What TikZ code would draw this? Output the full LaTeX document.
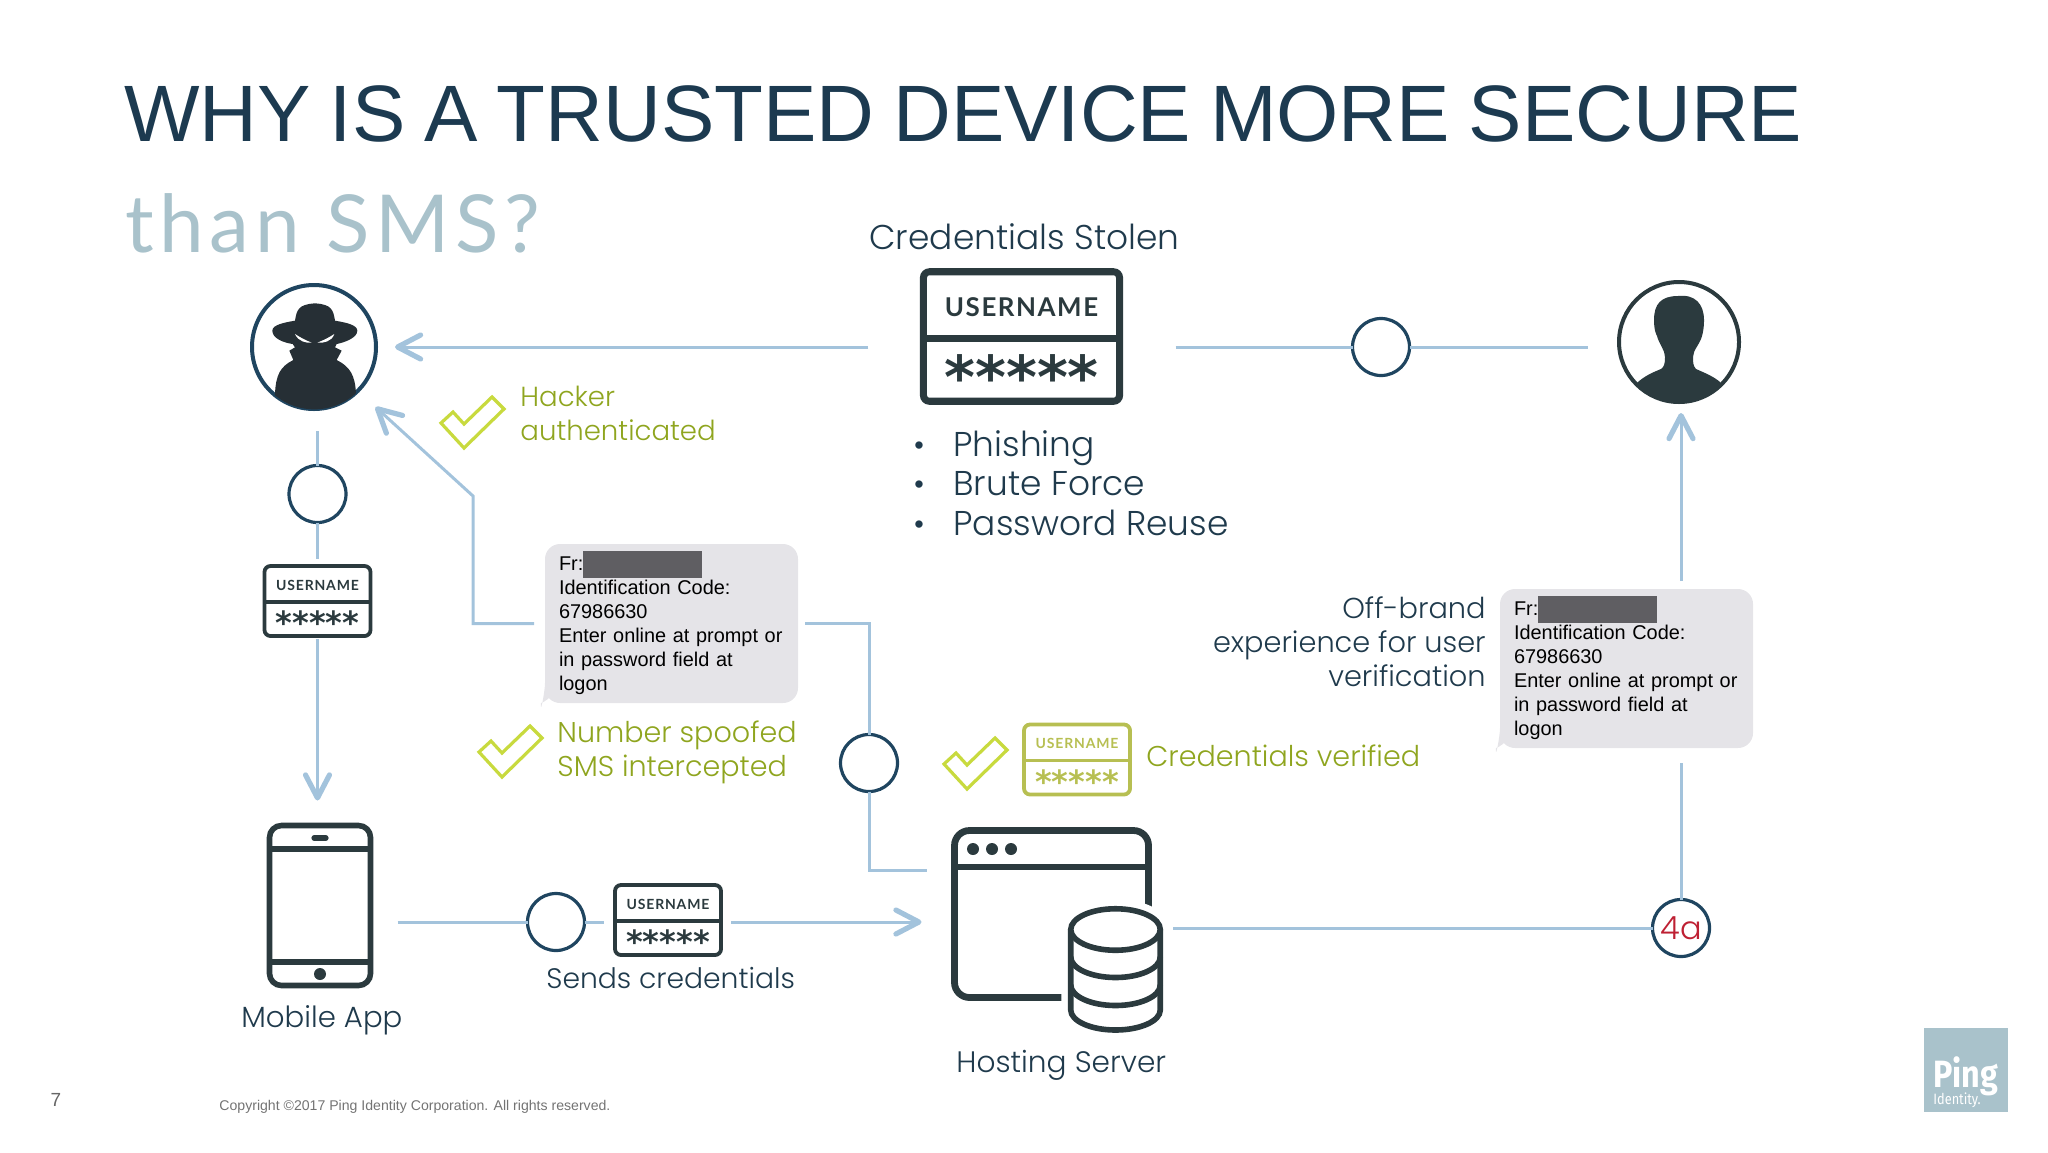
\documentclass[tikz,border=0pt]{standalone}
\usepackage{fontspec}
\usetikzlibrary{arrows.meta,calc}
\setmainfont{Liberation Sans}
\newfontfamily\titlefont{Liberation Sans}[WordSpace=0.85]
\newfontfamily\subfont{Lato}[LetterSpace=7]
\newfontfamily\slidefont{Poppins Light}
\newfontfamily\capsfont{Lato Bold}[LetterSpace=6]
\newfontfamily\starfont{DejaVu Sans Bold}
\newfontfamily\pingfont{Fira Sans}[FakeStretch=0.85]
\definecolor{titleink}{HTML}{1C3A50}
\definecolor{subink}{HTML}{A9C2CB}
\definecolor{labelink}{HTML}{1F3A4C}
\definecolor{iconink}{HTML}{2B3A3E}
\definecolor{spyink}{HTML}{262F35}
\definecolor{ringink}{HTML}{1F4560}
\definecolor{flowblue}{HTML}{A3C3DC}
\definecolor{okgreen}{HTML}{C8DA3E}
\definecolor{oktext}{HTML}{8FA51F}
\definecolor{okbox}{HTML}{B7BF52}
\definecolor{smsgrey}{HTML}{E5E4E8}
\definecolor{smsdark}{HTML}{5F5E62}
\definecolor{redfour}{HTML}{BE2033}
\tikzset{
  flow/.style={draw=flowblue,line width=1.5pt},
  flowtip/.tip={Straight Barb[length=11.5pt,width=12pt,line width=2.6pt,round]},
  stepring/.style={circle,draw=ringink,line width=1.6pt,minimum size=28.5pt,inner sep=0pt,outer sep=0pt,fill=white},
  bigring/.style={circle,line width=2pt,minimum size=#1,inner sep=0pt,outer sep=0pt},
  talk/.style={font=\slidefont\fontsize{17.2}{17}\selectfont,text=labelink,inner sep=0pt,anchor=base west},
  midtalk/.style={talk,font=\slidefont\fontsize{14.6}{16}\selectfont},
  okay/.style={talk,font=\slidefont\fontsize{14.3}{17}\selectfont,text=oktext},
  okline/.style={draw=okgreen,line width=1.6pt,line join=miter},
  iconline/.style={draw=iconink,line width=2.8pt},
  dotmark/.style={font=\fontsize{13.5}{14}\selectfont,text=labelink,inner sep=0pt,anchor=base},
  smsbox/.style={fill=smsgrey,rounded corners=7.5pt,minimum width=126.5pt,minimum height=79.5pt,inner sep=0pt,outer sep=0pt},
  smstext/.style={text width=112.5pt,inner sep=0pt,align=left,font=\fontsize{9.95}{12}\selectfont,text=black}
}
\newcommand{\credbox}[4]{%
  \begin{scope}[shift={#2},scale=#3,transform shape]
    \node[draw=#4,line width=#3*1.9pt,rounded corners=3pt,minimum width=53pt,minimum height=35pt,inner sep=0pt,outer sep=0pt] (#1) at (0,0) {};
    \draw[#4,line width=#3*1.9pt] (-53,1) -- (53,1);
    \node[font=\capsfont\fontsize{7}{8}\selectfont,text=#4,inner sep=0pt] (#1user) at (0,-16) {USERNAME};
    \node[font=\starfont\fontsize{16}{16}\selectfont,text=#4,inner sep=0pt,anchor=base] (#1pass) at (0,33.5) {*****};
  \end{scope}}
\newcommand{\smsbubble}[2]{%
  \fill[smsgrey] ($#2+(-126.5,59.5)$) .. controls +(0,8) and +(-1,14) .. +(-4,20) .. controls +(6,-1) and +(9,-2) .. +(14,0) -- cycle;
  \node[smsbox] (#1) at #2 {};
  \node[smstext] (#1text) at ($(#1)+(0,2.5)$) {Fr:\\Identification Code:\\67986630\\Enter online at prompt or\\in password field at\\logon};
  \node[fill=smsdark,minimum width=59.5pt,minimum height=13.5pt,inner sep=0pt,outer sep=0pt,anchor=north west] (#1redact) at ($(#1.north west)+(38,7)$) {};}
\newcommand{\okmark}[1]{\draw[okline,shift={#1}] (0,0) -- (-23,-25) -- (-11,-36) -- (0,-24) -- (28,-51) -- (40,-39) -- cycle;}
\begin{document}
\begin{tikzpicture}[x=0.5pt,y=-0.5pt]
  \useasboundingbox (0,0) rectangle (2048,1152);
  % headings
  \node[font=\titlefont\fontsize{40}{40}\selectfont,text=titleink,inner sep=0pt,anchor=base west] (title) at (124,141) {WHY IS A TRUSTED DEVICE MORE SECURE};
  \node[font=\subfont\fontsize{40}{40}\selectfont,text=subink,inner sep=0pt,anchor=base west] (subtitle) at (125,252) {than SMS?};
  % people
  \node[bigring=62pt,draw=ringink] (hacker) at (314,347) {};
  \node[bigring=60pt,draw=iconink] (victim) at (1679,342) {};
  \begin{scope}[shift={(200,260)},scale=1/3]
    \clip (343,262) circle[radius=186];
    \fill[spyink] (285,182) .. controls (290,150) and (295,133) .. (345,130) .. controls (395,133) and (400,150) .. (405,182)
      .. controls (440,188) and (472,195) .. (472,212) .. controls (472,235) and (430,248) .. (410,252) -- (405,262) -- (425,272) -- (410,300)
      .. controls (450,320) and (465,345) .. (468,400) -- (468,460) -- (220,460) -- (225,400) .. controls (228,345) and (240,320) .. (280,300)
      -- (268,272) -- (285,262) -- (278,252) .. controls (250,248) and (217,235) .. (217,212) .. controls (217,195) and (250,188) .. (285,182) -- cycle;
    \fill[white] (285,222) .. controls (295,245) and (320,250) .. (335,248) .. controls (315,240) and (300,232) .. (285,222) -- cycle;
    \fill[white] (403,222) .. controls (395,245) and (370,250) .. (352,248) .. controls (372,240) and (388,232) .. (403,222) -- cycle;
  \end{scope}
  \begin{scope}[shift={(victim)}]
    \clip (0,0) circle[radius=59];
    \fill[iconink] (-1,-46) .. controls (-18,-46) and (-25,-38) .. (-25,-22) .. controls (-25,-12) and (-23,-8) .. (-22,-6)
      .. controls (-20,2) and (-14,8) .. (-14,15) .. controls (-14,22) and (-15,25) .. (-18,27) .. controls (-28,31) and (-36,35) .. (-42,41) -- (-42,70) -- (42,70) -- (42,41)
      .. controls (36,35) and (26,31) .. (17,27) .. controls (14,24) and (14,20) .. (14,15) .. controls (14,8) and (21,2) .. (23,-6)
      .. controls (24,-10) and (25,-14) .. (25,-22) .. controls (25,-38) and (16,-48) .. (-1,-46) -- cycle;
  \end{scope}
  % stolen credentials
  \node[talk] (stolenlabel) at (869,249) {Credentials Stolen};
  \credbox{credstolen}{(1021.5,336.5)}{1.85}{iconink}
  \node[dotmark] (dotone) at (919,454) {•};
  \node[dotmark] (dottwo) at (919,493) {•};
  \node[dotmark] (dotthree) at (919,533) {•};
  \node[talk] (phishing) at (953,456) {Phishing};
  \node[talk] (brute) at (953,495) {Brute Force};
  \node[talk] (reuse) at (953,535) {Password Reuse};
  % left column
  \node[stepring] (stepuser) at (317.5,494) {};
  \credbox{creduser}{(317.5,601)}{1}{iconink}
  \node[iconline,rounded corners=6pt,minimum width=50.5pt,minimum height=80pt,inner sep=0pt,outer sep=0pt] (phone) at (320,905.5) {};
  \draw[iconline] (phone.west |- 0,849) -- (phone.east |- 0,849);
  \draw[iconline] (phone.west |- 0,962) -- (phone.east |- 0,962);
  \draw[iconink,line width=2.6pt,line cap=round] (314,838) -- (326,838);
  \fill[iconink] (320,974) circle[radius=6];
  \node[midtalk] (applabel) at (241,1027) {Mobile App};
  \node[stepring] (stepsend) at (556,922) {};
  \credbox{credsend}{(668,920)}{1}{iconink}
  \node[midtalk,font=\slidefont\fontsize{14.1}{16}\selectfont] (sendlabel) at (546,988) {Sends credentials};
  % text messages
  \smsbubble{smsone}{(671.5,623.5)}
  \smsbubble{smstwo}{(1626.5,668.5)}
  \okmark{(464,448)}
  \node[okay,align=left,font=\slidefont\fontsize{13.8}{17}\selectfont] (hackerlabel) at (520,440) {Hacker\\authenticated};
  \okmark{(502,777)}
  \node[okay,align=left] (spooflabel) at (557,776) {Number spoofed\\SMS intercepted};
  \okmark{(967,789)}
  \credbox{credok}{(1077,759.5)}{1}{okbox}
  \node[okay] (oklabel) at (1146,766) {Credentials verified};
  \node[talk,font=\slidefont\fontsize{14.4}{17}\selectfont,align=right,anchor=base east] (offbrand) at (1486,686) {Off-brand\\experience for user\\verification};
  % server
  \node[iconline,line width=3.4pt,rounded corners=7.5pt,minimum width=97pt,minimum height=83.5pt,inner sep=0pt,outer sep=0pt] (server) at (1051.5,914) {};
  \draw[iconline,line width=3.4pt] (server.west |- 0,867) -- (server.east |- 0,867);
  \fill[iconink] (973,849) circle[radius=6] (992,849) circle[radius=6] (1011,849) circle[radius=6];
  \node[minimum width=47.5pt,minimum height=63.5pt,inner sep=0pt,outer sep=0pt] (drum) at (1115.5,969.5) {};
  \draw[white,line width=9.5pt,fill=white] (1070.75,929.5) arc[start angle=180,end angle=360,x radius=44.75,y radius=20.75] -- (1160.25,1010) arc[start angle=0,end angle=180,x radius=44.75,y radius=20] -- cycle;
  \draw[iconline] (1115.5,929.5) ellipse[x radius=44.75,y radius=20.75];
  \draw[iconline] (1070.75,929.5) -- (1070.75,1010) arc[start angle=180,end angle=0,x radius=44.75,y radius=20] -- (1160.25,929.5);
  \draw[iconline] (1070.75,957) arc[start angle=180,end angle=0,x radius=44.75,y radius=20.5];
  \draw[iconline] (1070.75,985) arc[start angle=180,end angle=0,x radius=44.75,y radius=20.5];
  \node[midtalk,font=\slidefont\fontsize{14.8}{16}\selectfont] (serverlabel) at (956,1072) {Hosting Server};
  % rings on the lines
  \node[stepring] (stepstolen) at (1381,347) {};
  \node[stepring] (stepspoof) at (869,763) {};
  \node[stepring,font=\slidefont\fontsize{16}{17}\selectfont,text=redfour] (stepfour) at (1681,928) {4a};
  % connectors
  \coordinate (bendlow) at (473,623.5);
  \coordinate (bendhigh) at (473,496);
  \coordinate (bendserver) at (869,870);
  \draw[flow,-{flowtip},shorten <=27.5pt,shorten >=9.5pt] (hacker -| credstolen.west) -- (hacker.east);
  \draw[flow,shorten <=28pt] (stepstolen -| credstolen.east) -- (stepstolen.west);
  \draw[flow,shorten >=15.5pt] (stepstolen.east) -- (stepstolen -| victim.west);
  \draw[flow,shorten <=11pt] (stepuser.north |- hacker.south) -- (stepuser.north);
  \draw[flow,shorten >=3.5pt] (stepuser.south) -- (creduser.north);
  \draw[flow,-{flowtip},shorten <=1.5pt,shorten >=12.5pt] (creduser.south) -- (creduser.south |- phone.north);
  \draw[flow,shorten <=13.5pt] (stepsend -| phone.east) -- (stepsend.west);
  \draw[flow,shorten >=5.5pt] (stepsend.east) -- (stepsend -| credsend.west);
  \draw[flow,-{flowtip},shorten <=5pt,shorten >=16.5pt] (stepsend -| credsend.east) -- (stepsend -| server.west);
  \draw[flow,-{flowtip},shorten <=5.5pt,shorten >=12pt] (smsone.west) -- (bendlow) -- (bendhigh) -- (hacker.-45);
  \draw[flow,shorten <=3.5pt] (smsone.east) -| (stepspoof.north);
  \draw[flow,shorten >=14pt] (stepspoof.south) -- (bendserver) -- (bendserver -| server.west);
  \draw[flow,shorten <=5pt] (stepfour -| drum.east) -- (stepfour.west);
  \draw[flow,shorten >=7.5pt] (stepfour.north) -- (stepfour |- smstwo.south);
  \draw[flow,-{flowtip},shorten <=4pt,shorten >=5.5pt] (stepfour |- smstwo.north) -- (stepfour |- victim.south);
  % footer
  \node[font=\fontsize{9.5}{10}\selectfont,text=black!60,inner sep=0pt,anchor=base] (pagenum) at (56,1106) {7};
  \node[font=\fontsize{7.05}{8}\selectfont,text=black!55,inner sep=0pt,anchor=base west] (copyright) at (219,1110) {Copyright ©2017 Ping Identity Corporation. All rights reserved.};
  \node[fill=subink,minimum size=42pt,inner sep=0pt,outer sep=0pt] (pinglogo) at (1966,1070) {};
  \node[font=\pingfont\bfseries\fontsize{19}{19}\selectfont,text=white,inner sep=0pt,anchor=base west] (pingword) at (1933,1087) {Ping};
  \node[font=\pingfont\fontsize{7.5}{8}\selectfont,text=white,inner sep=0pt,anchor=base west] (pingsub) at (1933,1104) {Identity.};
\end{tikzpicture}
\end{document}
